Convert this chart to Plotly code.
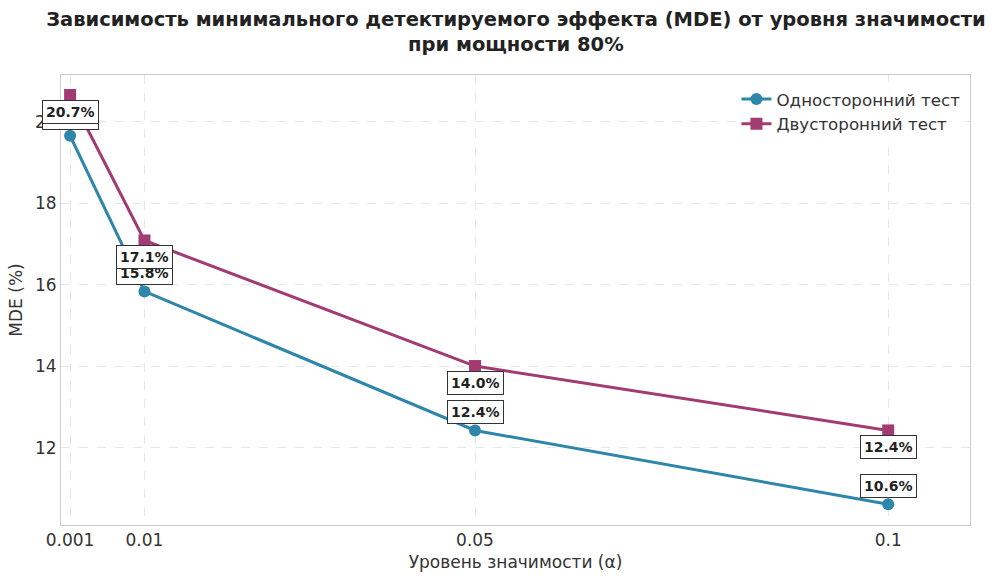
import plotly.graph_objects as go

alpha = [0.001, 0.01, 0.05, 0.1]
one_sided = [19.66, 15.84, 12.43, 10.62]
two_sided = [20.66, 17.09, 14.01, 12.43]
x_ticks = [0.001, 0.01, 0.05, 0.1]
x_tick_labels = ["0.001", "0.01", "0.05", "0.1"]
y_ticks = [12, 14, 16, 18, 20]

BLUE = "#2E86AB"
MAG = "#A23B72"
FONT = "DejaVu Sans"

fig = go.Figure()
fig.add_trace(go.Scatter(x=alpha, y=one_sided, mode="lines+markers", name="Односторонний тест",
                         line=dict(color=BLUE, width=3), marker=dict(symbol="circle", size=12, color=BLUE)))
fig.add_trace(go.Scatter(x=alpha, y=two_sided, mode="lines+markers", name="Двусторонний тест",
                         line=dict(color=MAG, width=3), marker=dict(symbol="square", size=12, color=MAG)))

ann = []
for x, y in zip(alpha, one_sided):
    ann.append(dict(x=x, y=y, xref="x", yref="y", text=f"<b>{y:.1f}%</b>", showarrow=False,
                    yshift=18, font=dict(family=FONT, size=14, color="#222"),
                    bgcolor="white", bordercolor="#333", borderwidth=1, borderpad=3))
for x, y in zip(alpha, two_sided):
    ann.append(dict(x=x, y=y, xref="x", yref="y", text=f"<b>{y:.1f}%</b>", showarrow=False,
                    yshift=-17, font=dict(family=FONT, size=14, color="#222"),
                    bgcolor="white", bordercolor="#333", borderwidth=1, borderpad=3))

fig.update_layout(
    width=996, height=581,
    margin=dict(l=61, r=26, t=75, b=56),
    paper_bgcolor="white", plot_bgcolor="white",
    font=dict(family=FONT, size=16, color="#333"),
    title=dict(text="<b>Зависимость минимального детектируемого эффекта (MDE) от уровня значимости<br>при мощности 80%</b>",
               x=0.518, xanchor="center", yref="container", y=1 - 26 / 581, yanchor="middle",
               font=dict(family=FONT, size=19.5, color="#222")),
    legend=dict(x=0.995, y=0.985, xanchor="right", yanchor="top", bgcolor="rgba(255,255,255,0.8)",
                font=dict(family=FONT, size=16.7, color="#333"), tracegroupgap=4),
    annotations=ann,
    showlegend=True,
)
fig.update_xaxes(range=[-0.0001, 0.1099], tickvals=x_ticks, ticktext=x_tick_labels,
                 showgrid=True, gridcolor="#e6e6e6", griddash="dash", gridwidth=1,
                 showline=True, linecolor="#cccccc", linewidth=1, mirror=True, zeroline=False,
                 ticks="", tickfont=dict(size=17, color="#333"),
                 title=dict(text="Уровень значимости (α)", font=dict(size=17, color="#333"), standoff=6))
fig.update_yaxes(range=[10.11, 21.15], tickvals=y_ticks,
                 showgrid=True, gridcolor="#e6e6e6", griddash="dash", gridwidth=1,
                 showline=True, linecolor="#cccccc", linewidth=1, mirror=True, zeroline=False,
                 ticks="", tickfont=dict(size=17, color="#333"),
                 title=dict(text="MDE (%)", font=dict(size=17, color="#333"), standoff=8))

fig.write_html("out.html")
